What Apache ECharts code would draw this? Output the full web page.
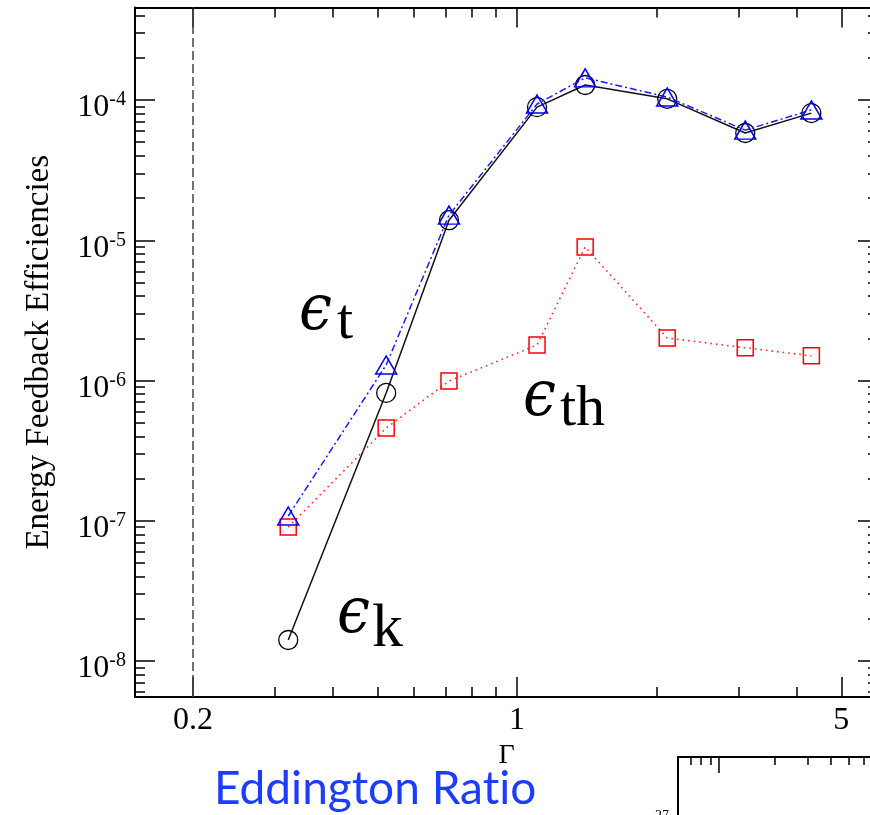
<!DOCTYPE html>
<html>
<head>
<meta charset="utf-8">
<script src="https://cdn.jsdelivr.net/npm/echarts@6/dist/echarts.min.js"></script>
<style>
  html, body { margin: 0; padding: 0; background: #fff; }
  #chart { width: 870px; height: 815px; }
</style>
</head>
<body>
<div id="chart"></div>
<script>
// Eddington ratio of each run
const gamma = [0.321, 0.522, 0.713, 1.104, 1.402, 2.107, 3.104, 4.31];
// feedback efficiencies: kinetic, total, thermal
const epsK  = [1.41e-8, 8.15e-7, 1.39e-5, 8.9e-5, 1.28e-4, 1.02e-4, 5.82e-5, 8.07e-5];
const epsT  = [1.08e-7, 1.29e-6, 1.51e-5, 9.36e-5, 1.44e-4, 1.05e-4, 6.1e-5, 8.5e-5];
const epsTh = [9.0e-8, 4.58e-7, 9.9e-7, 1.79e-6, 8.95e-6, 2.01e-6, 1.71e-6, 1.50e-6];

// axis ticks
const xMajor = [0.2, 1, 5];
const xMinor = [0.3, 0.4, 0.5, 0.6, 0.7, 0.8, 0.9, 2, 3, 4];
const yMajor = [1e-8, 1e-7, 1e-6, 1e-5, 1e-4];
const yMinorMantissa = [2, 3, 4, 5, 6, 7, 8, 9];
const yMinorDecades = [-9, -8, -7, -6, -5, -4];
const gammaLine = 0.2;

// neighbouring panel (lower right)
const subXMajor = [1];
const subXMinor = [0.7, 0.8, 0.9, 2, 3, 4, 5, 6, 7, 8, 9];
const subYMajor = [1e27];

const X_MIN = 0.15, X_MAX = 6;
const Y_MIN = 5.53e-9, Y_MAX = 4.57e-4;

const yMinor = [];
yMinorDecades.forEach(function (e) {
  yMinorMantissa.forEach(function (m) {
    const v = m * Math.pow(10, e);
    if (v > Y_MIN && v < Y_MAX) yMinor.push(v);
  });
});

const SERIF = 'Liberation Serif';

function pair(xs, ys) { return xs.map(function (x, i) { return [x, ys[i]]; }); }

function xAxisDef(grid, pos, ticks, len, opts) {
  return Object.assign({
    type: 'log', logBase: 10, gridIndex: grid, position: pos,
    min: X_MIN, max: X_MAX,
    axisLine: { show: true, onZero: false, lineStyle: { color: '#000', width: 2 } },
    axisTick: { show: true, inside: true, length: len, customValues: ticks,
                lineStyle: { color: '#000', width: 1.5 } },
    axisLabel: { show: false },
    splitLine: { show: false },
    minorTick: { show: false }
  }, opts || {});
}
function yAxisDef(grid, pos, ticks, len, opts) {
  return Object.assign({
    type: 'log', logBase: 10, gridIndex: grid, position: pos,
    min: Y_MIN, max: Y_MAX,
    axisLine: { show: true, onZero: false, lineStyle: { color: '#000', width: 2 } },
    axisTick: { show: true, inside: true, length: len, customValues: ticks,
                lineStyle: { color: '#000', width: 1.5 } },
    axisLabel: { show: false },
    splitLine: { show: false },
    minorTick: { show: false }
  }, opts || {});
}

function powLabel(v) {
  return '{b|10}{s|' + Math.round(Math.log10(v)) + '}';
}

const chart = echarts.init(document.getElementById('chart'), null, { renderer: 'canvas' });

const EPS_FONT = 'italic 64px "DejaVu Serif"';
const SUB_FONT = '58px "Liberation Serif"';

chart.setOption({
  animation: false,
  backgroundColor: '#fff',
  grid: [
    { left: 135, top: 7.5, width: 743, height: 689.5, outerBoundsMode: 'none' },
    { left: 678, top: 757, width: 227, height: 140, outerBoundsMode: 'none' }
  ],
  xAxis: [
    xAxisDef(0, 'bottom', xMajor, 20, {
      name: 'Γ', nameLocation: 'middle', nameGap: 41,
      nameTextStyle: { fontFamily: SERIF, fontSize: 28, color: '#000' },
      axisLabel: {
        show: true, customValues: xMajor, margin: 8,
        fontFamily: SERIF, fontSize: 32, color: '#000',
        formatter: function (v) { return String(+(+v).toPrecision(3)); }
      }
    }),
    xAxisDef(0, 'bottom', xMinor, 10, { axisLine: { show: false } }),
    xAxisDef(0, 'top', xMajor, 20),
    xAxisDef(0, 'top', xMinor, 10, { axisLine: { show: false } }),
    Object.assign(xAxisDef(1, 'top', subXMajor, 16), { min: 0.6, max: 10 }),
    Object.assign(xAxisDef(1, 'top', subXMinor, 8, { axisLine: { show: false } }), { min: 0.6, max: 10 })
  ],
  yAxis: [
    yAxisDef(0, 'left', yMajor, 20, {
      name: 'Energy Feedback Efficiencies', nameLocation: 'middle', nameGap: 79, nameRotate: 90,
      nameTextStyle: { fontFamily: SERIF, fontSize: 33, color: '#000' },
      axisLabel: {
        show: true, customValues: yMajor, margin: 9, padding: [16, 0, 0, 0],
        formatter: powLabel,
        rich: {
          b: { fontFamily: SERIF, fontSize: 32, color: '#000' },
          s: { fontFamily: SERIF, fontSize: 20, color: '#000', padding: [0, 0, 16, 0] }
        }
      }
    }),
    yAxisDef(0, 'left', yMinor, 10, { axisLine: { show: false } }),
    yAxisDef(0, 'right', yMajor, 20),
    yAxisDef(0, 'right', yMinor, 10, { axisLine: { show: false } }),
    Object.assign(yAxisDef(1, 'left', subYMajor, 0, {
      axisTick: { show: false },
      axisLabel: {
        show: true, customValues: subYMajor, margin: 9,
        formatter: powLabel,
        rich: {
          b: { fontFamily: SERIF, fontSize: 20, color: '#000' },
          s: { fontFamily: SERIF, fontSize: 14, color: '#000', padding: [0, 0, 22, 0] }
        }
      }
    }), { min: 1e26, max: 1e28 })
  ],
  series: [
    {
      name: 'kinetic', type: 'line', xAxisIndex: 0, yAxisIndex: 0,
      data: pair(gamma, epsK),
      symbol: 'circle', symbolSize: 19,
      itemStyle: { color: 'transparent', borderColor: '#000', borderWidth: 1.3 },
      lineStyle: { color: '#111', width: 1.5 },
      markLine: {
        silent: true, symbol: ['none', 'none'],
        label: { show: false },
        lineStyle: { color: '#444', width: 1.5, type: [9, 4] },
        data: [{ xAxis: gammaLine }]
      },
      z: 3
    },
    {
      name: 'thermal', type: 'line', xAxisIndex: 0, yAxisIndex: 0,
      data: pair(gamma, epsTh),
      symbol: 'rect', symbolSize: 16,
      itemStyle: { color: 'transparent', borderColor: '#ff0000', borderWidth: 1.5 },
      lineStyle: { color: '#ff2a2a', width: 1.6, type: [1.6, 4] },
      z: 4
    },
    {
      name: 'total', type: 'line', xAxisIndex: 0, yAxisIndex: 0,
      data: pair(gamma, epsT),
      symbol: 'triangle', symbolSize: [21, 18],
      itemStyle: { color: 'transparent', borderColor: '#0000ff', borderWidth: 1.5 },
      lineStyle: { color: '#1a1aff', width: 1.5, type: [7, 3, 2, 3] },
      z: 5
    }
  ],
  graphic: [
    { type: 'text', z: 10, x: 299, y: 312, scaleX: 0.92, style: { x: 0, y: 0, text: 'ϵ', font: EPS_FONT, fill: '#000', verticalAlign: 'middle' } },
    { type: 'text', z: 10, style: { x: 337, y: 323, text: 't', font: SUB_FONT, fill: '#000', verticalAlign: 'middle' } },
    { type: 'text', z: 10, x: 523, y: 398, scaleX: 0.92, style: { x: 0, y: 0, text: 'ϵ', font: EPS_FONT, fill: '#000', verticalAlign: 'middle' } },
    { type: 'text', z: 10, style: { x: 560, y: 410, text: 'th', font: SUB_FONT, fill: '#000', verticalAlign: 'middle' } },
    { type: 'text', z: 10, x: 337, y: 615, scaleX: 0.92, style: { x: 0, y: 0, text: 'ϵ', font: EPS_FONT, fill: '#000', verticalAlign: 'middle' } },
    { type: 'text', z: 10, style: { x: 372, y: 630, text: 'k', font: '62px "Liberation Serif"', fill: '#000', verticalAlign: 'middle' } },
    { type: 'text', z: 10, style: { x: 214, y: 789, text: 'Eddington Rat\u200Cio', font: '46px Lato', fill: '#1c3cff', verticalAlign: 'middle' } }
  ]
});
</script>
</body>
</html>
